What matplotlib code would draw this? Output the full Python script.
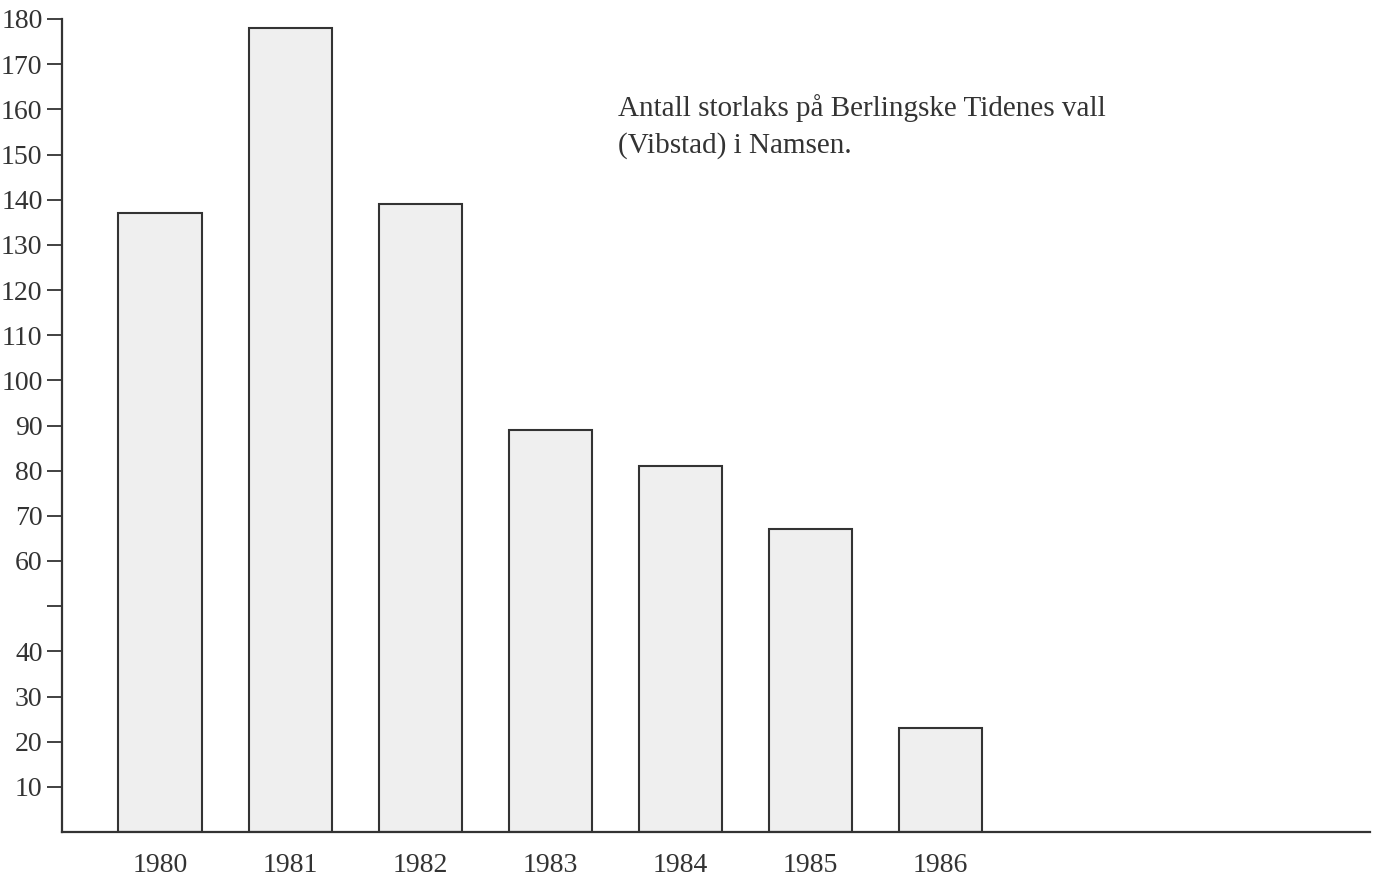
import matplotlib.pyplot as plt

# Antall storlaks per år
years = ["1980", "1981", "1982", "1983", "1984", "1985", "1986"]
counts = [137, 178, 139, 89, 81, 67, 23]

ytick_vals = [10, 20, 30, 40, 50, 60, 70, 80, 90, 100, 110, 120, 130, 140, 150, 160, 170, 180]
ytick_labels = ["10", "20", "30", "40", "", "60", "70", "80", "90", "100", "110", "120",
                "130", "140", "150", "160", "170", "180"]

title_text = "Antall storlaks på Berlingske Tidenes vall\n(Vibstad) i Namsen."

plt.rcParams['font.family'] = ['Liberation Serif', 'DejaVu Serif']

fig = plt.figure(figsize=(13.77, 8.89), dpi=100)
ax = fig.add_axes([62/1377, 57/889, (1370-62)/1377, (832-19)/889])

pos = list(range(len(years)))
ax.bar(pos, counts, width=0.64, color='#efefef', edgecolor='#333333', linewidth=1.5)

ax.set_xlim(-0.754, 9.3)
ax.set_ylim(0, 180)

ax.set_yticks(ytick_vals)
ax.set_yticklabels(ytick_labels, fontsize=20, color='#333333')
ax.set_xticks(pos)
ax.set_xticklabels(years, fontsize=20, color='#333333')
ax.tick_params(axis='y', length=11, width=1.3, color='#333333', pad=3)
ax.tick_params(axis='x', length=0, pad=15)

for side in ['top', 'right']:
    ax.spines[side].set_visible(False)
for side in ['left', 'bottom']:
    ax.spines[side].set_linewidth(1.6)
    ax.spines[side].set_color('#333333')

fig.text(618/1377, 1 - 94/889, title_text, fontsize=21, color='#333333',
         va='top', ha='left', linespacing=1.5)

fig.savefig("out.png", dpi=100)
